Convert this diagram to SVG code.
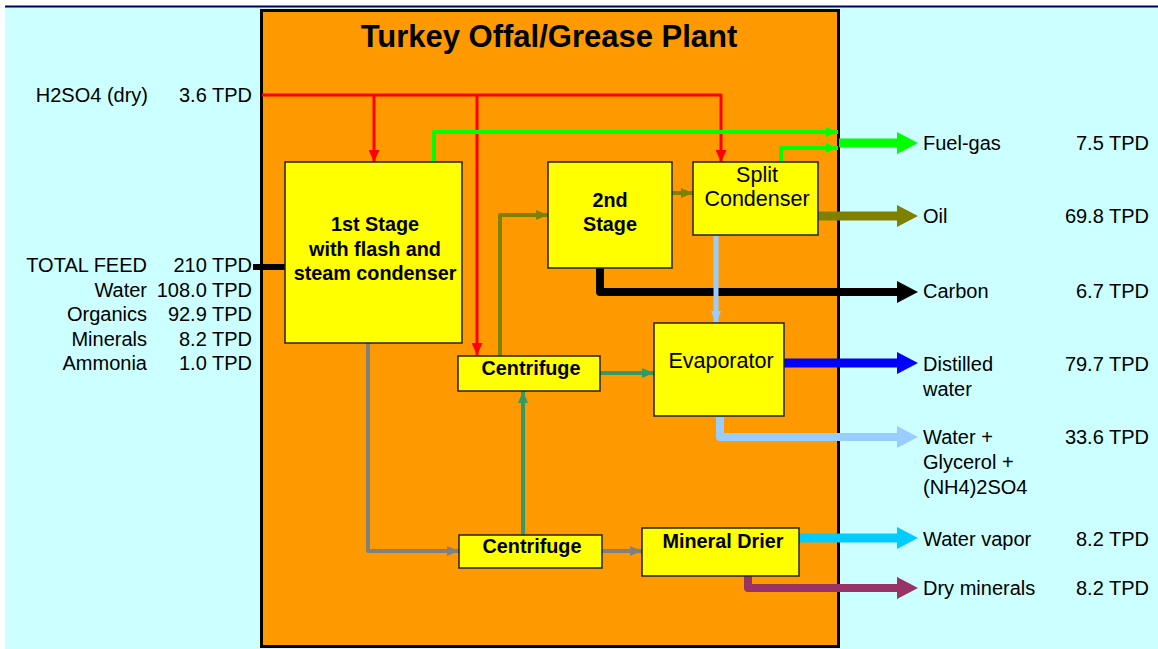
<svg xmlns="http://www.w3.org/2000/svg" width="1158" height="649" viewBox="0 0 1158 649">
<style>
text{font-family:"Liberation Sans",Arial,sans-serif;fill:#000}
.l{font-size:20px}
.r{text-anchor:end}
.m{text-anchor:middle}
.b{font-weight:bold;font-size:19.8px}
.n{font-size:21.5px}
.box{fill:#FFFF00;stroke:#222;stroke-width:1.5}
.c{fill:none;stroke-linejoin:round}
</style>
<defs>
<marker id="aRed" markerUnits="userSpaceOnUse" markerWidth="12" markerHeight="11" refX="12" refY="5.5" viewBox="0 0 12 11" orient="auto"><path d="M0,0 L12,5.5 L0,11 z" fill="#FF0000"/></marker>
<marker id="aGreen" markerUnits="userSpaceOnUse" markerWidth="12" markerHeight="10" refX="12" refY="5" viewBox="0 0 12 10" orient="auto"><path d="M0,0 L12,5 L0,10 z" fill="#00FF00"/></marker>
<marker id="aOlive" markerUnits="userSpaceOnUse" markerWidth="12" markerHeight="10" refX="12" refY="5" viewBox="0 0 12 10" orient="auto"><path d="M0,0 L12,5 L0,10 z" fill="#808000"/></marker>
<marker id="aLb" markerUnits="userSpaceOnUse" markerWidth="12" markerHeight="10" refX="12" refY="5" viewBox="0 0 12 10" orient="auto"><path d="M0,0 L12,5 L0,10 z" fill="#99CCFF"/></marker>
<marker id="aTeal" markerUnits="userSpaceOnUse" markerWidth="12" markerHeight="10" refX="12" refY="5" viewBox="0 0 12 10" orient="auto"><path d="M0,0 L12,5 L0,10 z" fill="#339966"/></marker>
<marker id="aGray" markerUnits="userSpaceOnUse" markerWidth="12" markerHeight="10" refX="12" refY="5" viewBox="0 0 12 10" orient="auto"><path d="M0,0 L12,5 L0,10 z" fill="#808080"/></marker>
<marker id="bGreen" markerUnits="userSpaceOnUse" markerWidth="21" markerHeight="22" refX="0" refY="11" viewBox="0 0 21 22" orient="auto"><path d="M0,0 L21,11 L0,22 z" fill="#00FF00"/></marker>
<marker id="bOlive" markerUnits="userSpaceOnUse" markerWidth="21" markerHeight="22" refX="0" refY="11" viewBox="0 0 21 22" orient="auto"><path d="M0,0 L21,11 L0,22 z" fill="#808000"/></marker>
<marker id="bBlack" markerUnits="userSpaceOnUse" markerWidth="21" markerHeight="22" refX="0" refY="11" viewBox="0 0 21 22" orient="auto"><path d="M0,0 L21,11 L0,22 z" fill="#000000"/></marker>
<marker id="bBlue" markerUnits="userSpaceOnUse" markerWidth="21" markerHeight="22" refX="0" refY="11" viewBox="0 0 21 22" orient="auto"><path d="M0,0 L21,11 L0,22 z" fill="#0000FF"/></marker>
<marker id="bLb" markerUnits="userSpaceOnUse" markerWidth="21" markerHeight="22" refX="0" refY="11" viewBox="0 0 21 22" orient="auto"><path d="M0,0 L21,11 L0,22 z" fill="#99CCFF"/></marker>
<marker id="bCyan" markerUnits="userSpaceOnUse" markerWidth="21" markerHeight="22" refX="0" refY="11" viewBox="0 0 21 22" orient="auto"><path d="M0,0 L21,11 L0,22 z" fill="#00CCFF"/></marker>
<marker id="bMaroon" markerUnits="userSpaceOnUse" markerWidth="21" markerHeight="22" refX="0" refY="11" viewBox="0 0 21 22" orient="auto"><path d="M0,0 L21,11 L0,22 z" fill="#993366"/></marker>
</defs>

<rect x="0" y="0" width="1158" height="649" fill="#FFFFFF"/>
<rect x="5" y="7" width="1153" height="642" fill="#CCFFFF"/>
<line x1="5" y1="6.5" x2="1158" y2="6.5" stroke="#000066" stroke-width="2"/>

<g id="plant">
<rect x="261.5" y="10.5" width="577" height="636" fill="#FF9900" stroke="#000" stroke-width="3"/>
<text x="549" y="47" class="m" style="font-size:31px;font-weight:bold">Turkey Offal/Grease Plant</text>
</g>

<g id="inputs">
<text x="148" y="102" class="l r">H2SO4 (dry)</text>
<text x="252" y="102" class="l r">3.6 TPD</text>
<text x="147" y="272" class="l r">TOTAL FEED</text>
<text x="252" y="272" class="l r">210 TPD</text>
<text x="147" y="297" class="l r">Water</text>
<text x="252" y="297" class="l r">108.0 TPD</text>
<text x="147" y="321" class="l r">Organics</text>
<text x="252" y="321" class="l r">92.9 TPD</text>
<text x="147" y="346" class="l r">Minerals</text>
<text x="252" y="346" class="l r">8.2 TPD</text>
<text x="147" y="370" class="l r">Ammonia</text>
<text x="252" y="370" class="l r">1.0 TPD</text>
</g>

<g id="connectors">
<path class="c" d="M262,95 H721 V162" stroke="#FF0000" stroke-width="3" marker-end="url(#aRed)"/>
<path class="c" d="M374,95 V162" stroke="#FF0000" stroke-width="3" marker-end="url(#aRed)"/>
<path class="c" d="M477,95 V355" stroke="#FF0000" stroke-width="3" marker-end="url(#aRed)"/>
<path class="c" d="M434,162 V132 H838" stroke="#00FF00" stroke-width="4" marker-end="url(#aGreen)"/>
<path class="c" d="M781,162 V148 H838" stroke="#00FF00" stroke-width="4" marker-end="url(#aGreen)"/>
<path class="c" d="M839,143 H897" stroke="#00FF00" stroke-width="9" marker-end="url(#bGreen)"/>
<path class="c" d="M500,356 V215 H548" stroke="#808000" stroke-width="4" marker-end="url(#aOlive)"/>
<path class="c" d="M672,193 H693" stroke="#808000" stroke-width="4" marker-end="url(#aOlive)"/>
<path class="c" d="M818,216 H897" stroke="#808000" stroke-width="9" marker-end="url(#bOlive)"/>
<path class="c" d="M253,267 H285" stroke="#000" stroke-width="6"/>
<path class="c" d="M600,268 V292 H897" stroke="#000" stroke-width="8" marker-end="url(#bBlack)"/>
<path class="c" d="M716,235 V323" stroke="#99CCFF" stroke-width="5" marker-end="url(#aLb)"/>
<path class="c" d="M720,416 V437 H897" stroke="#99CCFF" stroke-width="8" marker-end="url(#bLb)"/>
<path class="c" d="M784,363 H897" stroke="#0000FF" stroke-width="9" marker-end="url(#bBlue)"/>
<path class="c" d="M600,373 H654" stroke="#339966" stroke-width="4" marker-end="url(#aTeal)"/>
<path class="c" d="M523,535 V391" stroke="#339966" stroke-width="4" marker-end="url(#aTeal)"/>
<path class="c" d="M368,343 V551 H459" stroke="#808080" stroke-width="4" marker-end="url(#aGray)"/>
<path class="c" d="M602,551 H642" stroke="#808080" stroke-width="4" marker-end="url(#aGray)"/>
<path class="c" d="M799,538 H897" stroke="#00CCFF" stroke-width="9" marker-end="url(#bCyan)"/>
<path class="c" d="M748,576 V588 H897" stroke="#993366" stroke-width="8" marker-end="url(#bMaroon)"/>
</g>

<g id="stage1">
<rect class="box" x="285" y="162" width="177" height="181"/>
<text x="375" y="231" class="m b">1st Stage</text>
<text x="375" y="256" class="m b">with flash and</text>
<text x="375" y="280" class="m b">steam condenser</text>
</g>
<g id="stage2">
<rect class="box" x="548" y="162" width="124" height="106"/>
<text x="610" y="207" class="m b">2nd</text>
<text x="610" y="231" class="m b">Stage</text>
</g>
<g id="splitcondenser">
<rect class="box" x="693" y="162" width="125" height="73"/>
<text x="757" y="182" class="m n">Split</text>
<text x="757" y="206" class="m n">Condenser</text>
</g>
<g id="evaporator">
<rect class="box" x="654" y="323" width="130" height="93"/>
<text x="721" y="368" class="m n">Evaporator</text>
</g>
<g id="centrifuge1">
<rect class="box" x="458" y="356" width="142" height="35"/>
<text x="531" y="375" class="m b">Centrifuge</text>
</g>
<g id="centrifuge2">
<rect class="box" x="459" y="535" width="143" height="33"/>
<text x="532" y="553" class="m b">Centrifuge</text>
</g>
<g id="mineraldrier">
<rect class="box" x="642" y="528" width="157" height="48"/>
<text x="723" y="548" class="m b">Mineral Drier</text>
</g>

<g id="outputs">
<text x="923" y="150" class="l">Fuel-gas</text>
<text x="1149" y="150" class="l r">7.5 TPD</text>
<text x="923" y="223" class="l">Oil</text>
<text x="1149" y="223" class="l r">69.8 TPD</text>
<text x="923" y="298" class="l">Carbon</text>
<text x="1149" y="298" class="l r">6.7 TPD</text>
<text x="923" y="371" class="l">Distilled</text>
<text x="923" y="396" class="l">water</text>
<text x="1149" y="371" class="l r">79.7 TPD</text>
<text x="923" y="444" class="l">Water +</text>
<text x="923" y="469" class="l">Glycerol +</text>
<text x="923" y="494" class="l">(NH4)2SO4</text>
<text x="1149" y="444" class="l r">33.6 TPD</text>
<text x="923" y="546" class="l">Water vapor</text>
<text x="1149" y="546" class="l r">8.2 TPD</text>
<text x="923" y="595" class="l">Dry minerals</text>
<text x="1149" y="595" class="l r">8.2 TPD</text>
</g>
</svg>
